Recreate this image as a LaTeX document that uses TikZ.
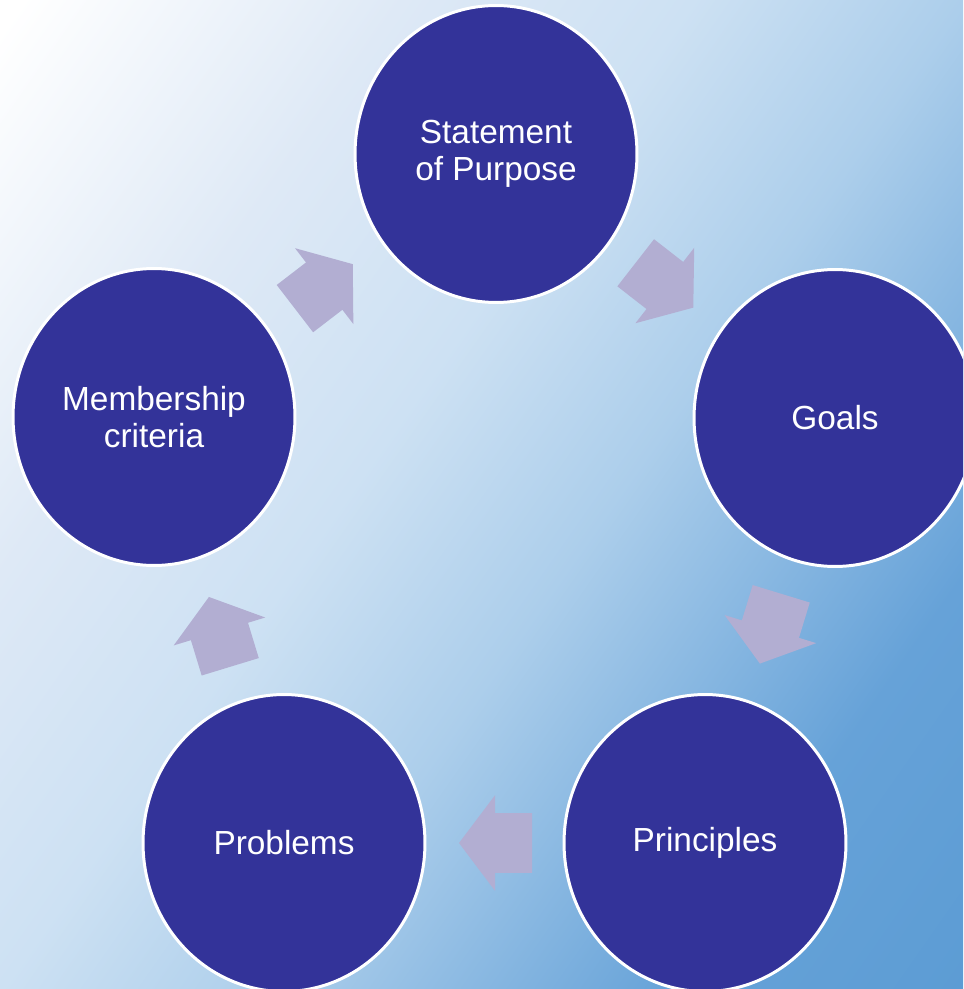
\documentclass[tikz,border=0pt]{standalone}
\usepackage{fontspec}
\setmainfont{Liberation Sans}
\usetikzlibrary{shapes.geometric,shapes.arrows,positioning,calc}
\definecolor{stageblue}{RGB}{51,51,153}
\definecolor{flowlilac}{RGB}{178,174,210}
\definecolor{bgA}{RGB}{222,233,246}
\definecolor{bgB}{RGB}{205,225,243}
\definecolor{bgC}{RGB}{172,206,235}
\definecolor{bgD}{RGB}{102,162,216}
\definecolor{bgE}{RGB}{92,156,212}
\pgfdeclarehorizontalshading{bgramp}{100bp}{color(0bp)=(white); color(17bp)=(white); color(32.6bp)=(bgA); color(44.5bp)=(bgB); color(55.6bp)=(bgC); color(72.1bp)=(bgD); color(84bp)=(bgE); color(100bp)=(bgE)}

\begin{document}
\begin{tikzpicture}[
    x=0.02cm, y=-0.02cm,
    stage/.style={ellipse, draw=white, line width=1.7pt, fill=stageblue, minimum width=5.64cm, minimum height=5.94cm, inner sep=0pt, align=center, text=white, font=\fontsize{19}{21}\selectfont},
    flow/.style={single arrow, draw=none, fill=flowlilac, minimum height=1.46cm, inner xsep=0pt, inner ysep=0.59cm, single arrow head extend=0.36cm, single arrow tip angle=106, allow upside down}
]

% Background
\path[use as bounding box, clip] (0,0) rectangle (963,989);
\shade[shading=bgramp, shading angle=-35] (-18.5,-5.5) rectangle (981.5,994.5);

% Stages
\node[stage] (purpose) at (496, 154) {Statement\\of Purpose};
\node[stage] (goals) at (835, 418) {Goals};
\node[stage] (principles) at (705, 843) {Principles};
\node[stage] (problems) at (284, 843) {Problems};
\node[stage] (members) at (154, 417) {Membership\\criteria};

% Cycle arrows
\path (purpose) -- (goals) node[flow, pos=0.41, sloped] {};
\path (goals) -- (principles) node[flow, pos=0.41, sloped] {};
\path (principles) -- (problems) node[flow, pos=0.41, sloped] {};
\path (problems) -- (members) node[flow, pos=0.41, sloped] {};
\path (members) -- (purpose) node[flow, pos=0.41, sloped] {};

\end{tikzpicture}
\end{document}
